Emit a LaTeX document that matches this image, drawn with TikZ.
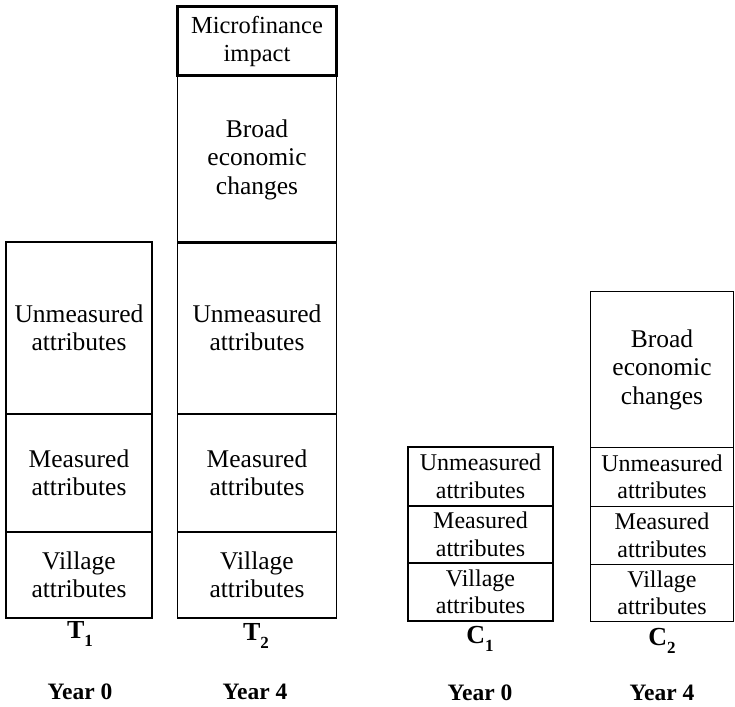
\documentclass[tikz,border=0pt]{standalone}
\usepackage{fontspec}
\setmainfont{Liberation Serif}
\tikzset{
  cell/.style={draw, line width=1.5pt, inner sep=0pt, align=center,
    font=\fontsize{25.5}{28.5}\selectfont},
  smallcell/.style={cell, font=\fontsize{24}{27.5}\selectfont},
  impactcell/.style={cell, line width=3pt, font=\fontsize{24.5}{28}\selectfont},
  grplabel/.style={font=\fontsize{26}{28}\selectfont\bfseries},
  yearlabel/.style={font=\fontsize{23.5}{26}\selectfont\bfseries}
}
\newcommand{\grp}[2]{#1\raisebox{-0.28em}{\fontsize{17}{17}\selectfont #2}}
\begin{document}
\begin{tikzpicture}[x=1pt,y=-1pt]
\useasboundingbox (0,0) rectangle (735,706);
% T1
\node[cell, minimum width=146pt, minimum height=172pt] (t1u) at (79,328) {Unmeasured\\attributes};
\node[cell, minimum width=146pt, minimum height=118pt] (t1m) at (79,473) {Measured\\attributes};
\node[cell, minimum width=146pt, minimum height=86pt] (t1v) at (79,575) {Village\\attributes};
% T2
\node[impactcell, minimum width=159pt, minimum height=69pt] (t2i) at (257,41.5) {Microfinance\\impact};
\node[cell, minimum width=159pt, minimum height=167pt] (t2b) at (257,159.5) {Broad\\economic\\changes};
\node[cell, minimum width=159pt, minimum height=172pt] (t2u) at (257,328) {Unmeasured\\attributes};
\node[cell, minimum width=159pt, minimum height=118pt] (t2m) at (257,473) {Measured\\attributes};
\node[cell, minimum width=159pt, minimum height=86pt] (t2v) at (257,575) {Village\\attributes};
% C1
\node[smallcell, minimum width=145pt, minimum height=59pt] (c1u) at (480.5,476.5) {Unmeasured\\attributes};
\node[smallcell, minimum width=145pt, minimum height=57pt] (c1m) at (480.5,534.5) {Measured\\attributes};
\node[smallcell, minimum width=145pt, minimum height=58pt] (c1v) at (480.5,592) {Village\\attributes};
% C2
\node[cell, minimum width=143pt, minimum height=156pt] (c2b) at (662,369.5) {Broad\\economic\\changes};
\node[smallcell, minimum width=143pt, minimum height=59pt] (c2u) at (662,477) {Unmeasured\\attributes};
\node[smallcell, minimum width=143pt, minimum height=58pt] (c2m) at (662,535.5) {Measured\\attributes};
\node[smallcell, minimum width=143pt, minimum height=57pt] (c2v) at (662,593) {Village\\attributes};
% labels
\node[grplabel] (lt1) at (80,634) {\grp{T}{1}};
\node[grplabel] (lt2) at (256,636) {\grp{T}{2}};
\node[grplabel] (lc1) at (480,639) {\grp{C}{1}};
\node[grplabel] (lc2) at (662,641) {\grp{C}{2}};
\node[yearlabel] (y1) at (80,692) {Year 0};
\node[yearlabel] (y2) at (255,692) {Year 4};
\node[yearlabel] (y3) at (480,693) {Year 0};
\node[yearlabel] (y4) at (662,693) {Year 4};
\end{tikzpicture}
\end{document}
